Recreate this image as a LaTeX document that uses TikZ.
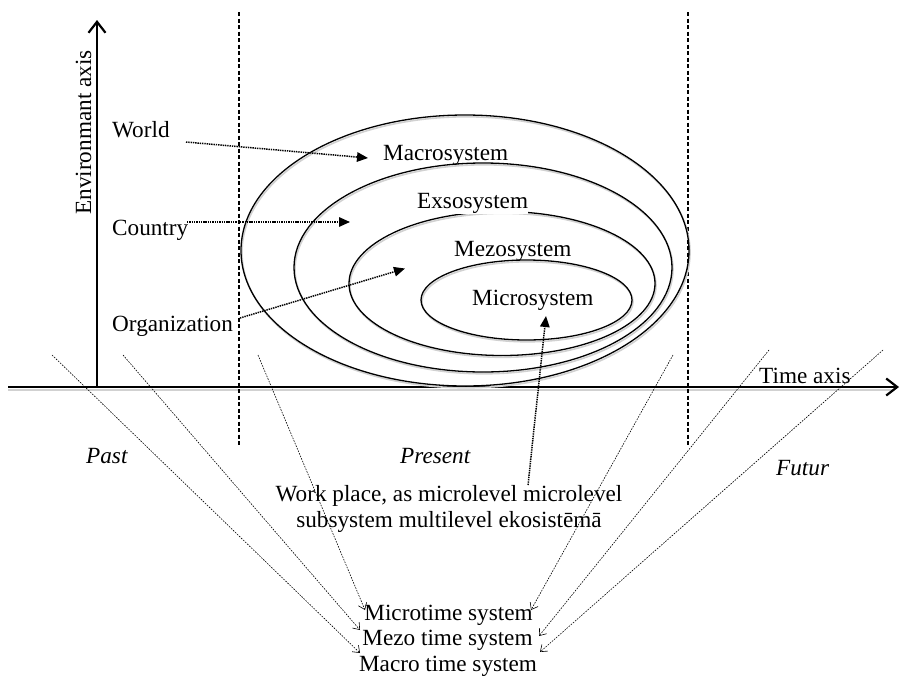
\documentclass[tikz,border=0pt]{standalone}
\usepackage{fontspec}
\setmainfont{Liberation Serif}
\usetikzlibrary{arrows.meta}
\begin{document}
\begin{tikzpicture}[x=1pt,y=-1pt,
  txt/.style={font=\fontsize{23.2}{26.5}\selectfont, inner sep=0pt},
  itxt/.style={txt, font=\fontsize{23.2}{26.5}\selectfont\itshape},
  axisline/.style={line width=2.4pt, -{Straight Barb[length=11pt,width=17pt,line width=2.2pt]}},
  shade/.style={black!18, line width=1.6pt},
  ring/.style={line width=1.3pt},
  border/.style={line width=1.4pt, dash pattern=on 4pt off 2.5pt},
  levelarrow/.style={line width=1.5pt, dash pattern=on 1.4pt off 0.9pt,
    -{Triangle[length=11pt,width=9.5pt]}},
  timearrow/.style={line width=0.6pt, dash pattern=on 1.6pt off 1.2pt,
    -{Straight Barb[length=6pt,width=9pt,line width=0.6pt]}}]
\useasboundingbox (0,0) rectangle (901,675);

% axes
\coordinate (origin) at (97,387);
\coordinate (envtop) at (97,20);
\coordinate (tleft) at (8,387);
\coordinate (tright) at (899,387);
\draw[black!18, line width=2pt] (8,389.5) -- (895,389.5);
\draw[axisline] (origin) -- (envtop);
\draw[axisline] (tleft) -- (tright);

% past / present / future borders
\coordinate (b1top) at (239,12);
\coordinate (b1bot) at (239,447);
\coordinate (b2top) at (688,12);
\coordinate (b2bot) at (688,447);
\draw[border] (b1top) -- (b1bot);
\draw[border] (b2top) -- (b2bot);

% nested systems
\foreach \cx/\cy/\rx/\ry in {465/250.5/224/135.5, 483/267.5/189/104.5, 502/283.5/153/72, 526.5/300/105.5/40}{
  \draw[shade] (\cx+1,\cy+1.8) ellipse [x radius=\rx pt, y radius=\ry pt];
  \draw[ring] (\cx,\cy) ellipse [x radius=\rx pt, y radius=\ry pt];
}

% labels
\node[txt, rotate=90, anchor=base] (envaxis) at (91,132.5) {Environmant axis};
\node[txt, anchor=base west] (world) at (112,137) {World};
\node[txt, anchor=base west] (country) at (112,235) {Country};
\node[txt, anchor=base west] (org) at (112,331) {Organization};
\node[txt, anchor=base west] (macro) at (383,160) {Macrosystem};
\node[txt, anchor=base west, fill=white, inner ysep=1pt] (exo) at (417,208) {Exsosystem};
\node[txt, anchor=base west] (mezo) at (454,256) {Mezosystem};
\node[txt, anchor=base west] (micro) at (472,305) {Microsystem};
\node[txt, anchor=base west] (timeaxis) at (759,383.5) {Time axis};
\node[itxt, anchor=base west] (past) at (86,463) {Past};
\node[itxt, anchor=base west] (present) at (400,463) {Present};
\node[itxt, anchor=base west] (future) at (776,475) {Futur};
\node[txt, anchor=base, align=center] (work) at (449,527.5) {Work place, as microlevel microlevel\\subsystem multilevel ekosistēmā};
\node[txt, anchor=base] (microtime) at (448.5,620) {Microtime system};
\node[txt, anchor=base] (mezotime) at (447.5,645.5) {Mezo time system};
\node[txt, anchor=base] (macrotime) at (448,671) {Macro time system};

% environment levels pointing into the systems
\coordinate (worldout) at (186,142);
\coordinate (macroin) at (368,158);
\coordinate (countryout) at (187,222);
\coordinate (exoin) at (350,222);
\coordinate (orgout) at (240,318);
\coordinate (mezoin) at (405,268.5);
\coordinate (workout) at (528,485);
\coordinate (microin) at (546,316);
\draw[levelarrow] (worldout) -- (macroin);
\draw[levelarrow] (countryout) -- (exoin);
\draw[levelarrow] (orgout) -- (mezoin);
\draw[levelarrow] (workout) -- (microin);

% time scales converging on the time systems
\coordinate (p1) at (52,355);
\coordinate (p2) at (123,355);
\coordinate (p3) at (258,355);
\coordinate (f1) at (673,355);
\coordinate (f2) at (769,350);
\coordinate (f3) at (883,350);
\coordinate (macroL) at (360,653);
\coordinate (mezoL) at (360,630);
\coordinate (microL) at (365,610);
\coordinate (microR) at (531,610);
\coordinate (mezoR) at (539,636);
\coordinate (macroR) at (540,652);
\draw[timearrow] (p1) -- (macroL);
\draw[timearrow] (p2) -- (mezoL);
\draw[timearrow] (p3) -- (microL);
\draw[timearrow] (f1) -- (microR);
\draw[timearrow] (f2) -- (mezoR);
\draw[timearrow] (f3) -- (macroR);
\end{tikzpicture}
\end{document}
